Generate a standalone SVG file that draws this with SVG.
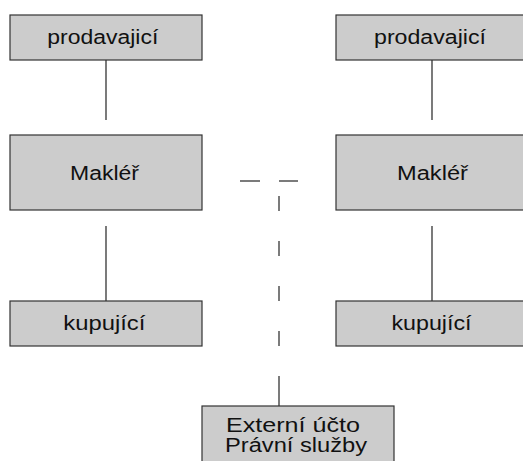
<svg xmlns="http://www.w3.org/2000/svg" width="523" height="461" viewBox="0 0 523 461">
  <style>
    .box { fill: #cccccc; stroke: #333333; stroke-width: 1.2; }
    .lbl { font-family: "Liberation Sans", Arial, sans-serif; font-size: 19.5px; fill: #111111; }
    .link { stroke: #222222; stroke-width: 1.2; fill: none; }
    .dash { stroke: #5a5a5a; stroke-width: 1.6; fill: none; }
  </style>
  <rect width="523" height="461" fill="#ffffff"/>

  <g id="connectors">
    <line class="link" x1="106" y1="60" x2="106" y2="120"/>
    <line class="link" x1="106" y1="226" x2="106" y2="301"/>
    <line class="link" x1="432" y1="60" x2="432" y2="120"/>
    <line class="link" x1="432" y1="226" x2="432" y2="301"/>
    <line class="dash" x1="240" y1="181" x2="260" y2="181"/>
    <line class="dash" x1="279" y1="181" x2="298" y2="181"/>
    <line class="dash" x1="279" y1="196" x2="279" y2="211"/>
    <line class="dash" x1="279" y1="241" x2="279" y2="256"/>
    <line class="dash" x1="279" y1="286" x2="279" y2="301"/>
    <line class="dash" x1="279" y1="331" x2="279" y2="346"/>
    <line class="dash" x1="279" y1="376" x2="279" y2="406"/>
  </g>

  <g id="seller-left">
    <rect class="box" x="10" y="15" width="192" height="45"/>
    <text class="lbl" x="47.3" y="44" textLength="111" lengthAdjust="spacingAndGlyphs">prodavajicí</text>
  </g>
  <g id="seller-right">
    <rect class="box" x="336" y="15" width="192" height="45"/>
    <text class="lbl" x="374" y="44" textLength="112" lengthAdjust="spacingAndGlyphs">prodavajicí</text>
  </g>

  <g id="broker-left">
    <rect class="box" x="10" y="135" width="192" height="75"/>
    <text class="lbl" x="70" y="180" textLength="69" lengthAdjust="spacingAndGlyphs">Makléř</text>
  </g>
  <g id="broker-right">
    <rect class="box" x="336" y="135" width="192" height="75"/>
    <text class="lbl" x="397" y="180" textLength="71" lengthAdjust="spacingAndGlyphs">Makléř</text>
  </g>

  <g id="buyer-left">
    <rect class="box" x="10" y="301" width="192" height="45"/>
    <text class="lbl" x="63.3" y="330" textLength="82" lengthAdjust="spacingAndGlyphs">kupující</text>
  </g>
  <g id="buyer-right">
    <rect class="box" x="336" y="301" width="192" height="45"/>
    <text class="lbl" x="391.5" y="330" textLength="80" lengthAdjust="spacingAndGlyphs">kupující</text>
  </g>

  <g id="services">
    <rect class="box" x="202" y="406" width="192" height="70"/>
    <text class="lbl" x="226" y="432" textLength="134" lengthAdjust="spacingAndGlyphs">Externí účto</text>
    <text class="lbl" x="225" y="452" textLength="142" lengthAdjust="spacingAndGlyphs">Právní služby</text>
  </g>
</svg>
